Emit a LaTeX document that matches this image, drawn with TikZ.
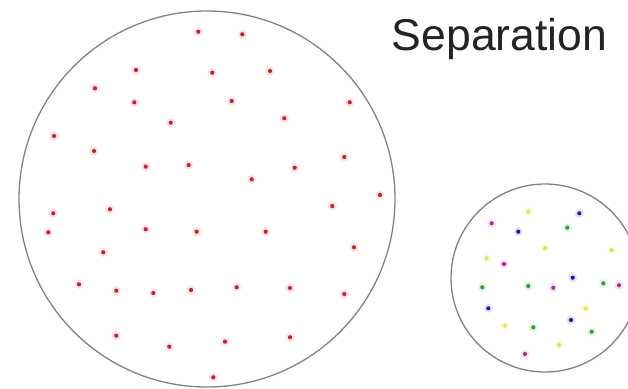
\documentclass[tikz,border=0pt]{standalone}
\usepackage{fontspec}
\setmainfont{Liberation Sans}
\definecolor{ringgray}{RGB}{130,130,130}
\definecolor{txt}{RGB}{35,35,35}
\definecolor{redcore}{RGB}{195,35,50}
\definecolor{redhalo}{RGB}{252,225,230}
\definecolor{bluecore}{RGB}{30,30,150}
\definecolor{bluehalo}{RGB}{225,228,250}
\definecolor{greencore}{RGB}{60,150,70}
\definecolor{greenhalo}{RGB}{222,248,225}
\definecolor{magcore}{RGB}{175,45,140}
\definecolor{maghalo}{RGB}{250,225,245}
\definecolor{yelcore}{RGB}{225,220,120}
\definecolor{yelhalo}{RGB}{252,252,215}
\tikzset{
  ring/.style={draw=ringgray, line width=1.3pt},
}
\newcommand{\mydots}[3]{%
  \foreach \p in {#3} {
    \fill[#2] \p circle (4.5pt);
    \fill[#1] \p circle (2.1pt);
  }%
}
\begin{document}
\begin{tikzpicture}[x=1pt,y=-1pt]
\useasboundingbox (0,0) rectangle (628,388);
\clip (0,0) rectangle (628,388);
\fill[white] (0,0) rectangle (628,388);
% big circle
\draw[ring] (207,199) circle (188pt);
\mydots{redcore}{redhalo}{(198.3,31.7),(136,70),(95,88.3),(134.3,102.3),(170.7,122.7),(54,136),(94,151),(145.7,166.7),(188.7,165),
(242.3,34.3),(212.3,72.7),(270,71),(231.7,101),(349.7,102.3),(284.3,118.3),(344.3,157),(294.7,167.7),(251.7,179.3),(380,195),
(53.3,213.3),(110,209.3),(48.3,232.3),(145.7,229.3),(196.7,231.7),(103.3,252.3),(79,284.3),(116.3,290.7),(153.3,293),(191,290),(116.3,335.7),(169.3,346.7),
(332.3,206),(265.7,231.7),(354,247.3),(236.7,287.3),(290,288),(344.3,294),(225,341.7),(290,337.3),(213.3,377.3)}
% small circle
\mydots{yelcore}{yelhalo}{(528.3,211.7),(545,248.3),(611.7,250),(486.7,258.3),(585.7,308.3),(505,325.7),(559,345)}
\mydots{bluecore}{bluehalo}{(579.3,213.3),(518.3,231.7),(572.7,277.7),(488.3,308.3),(571,320)}
\mydots{greencore}{greenhalo}{(567.3,227.7),(603.3,283.3),(482.3,287.3),(528.3,286),(533.3,327.3),(591.7,331.7)}
\mydots{magcore}{maghalo}{(491.7,223.3),(504,264),(619,285.3),(553.3,287.7),(525,354)}
\draw[ring] (545,278) circle (94pt);
% title
\node[anchor=base, inner sep=0pt, text=txt, font=\fontsize{44.5pt}{50pt}\selectfont] (title) at (499.5,50) {Separation};
\end{tikzpicture}
\end{document}
